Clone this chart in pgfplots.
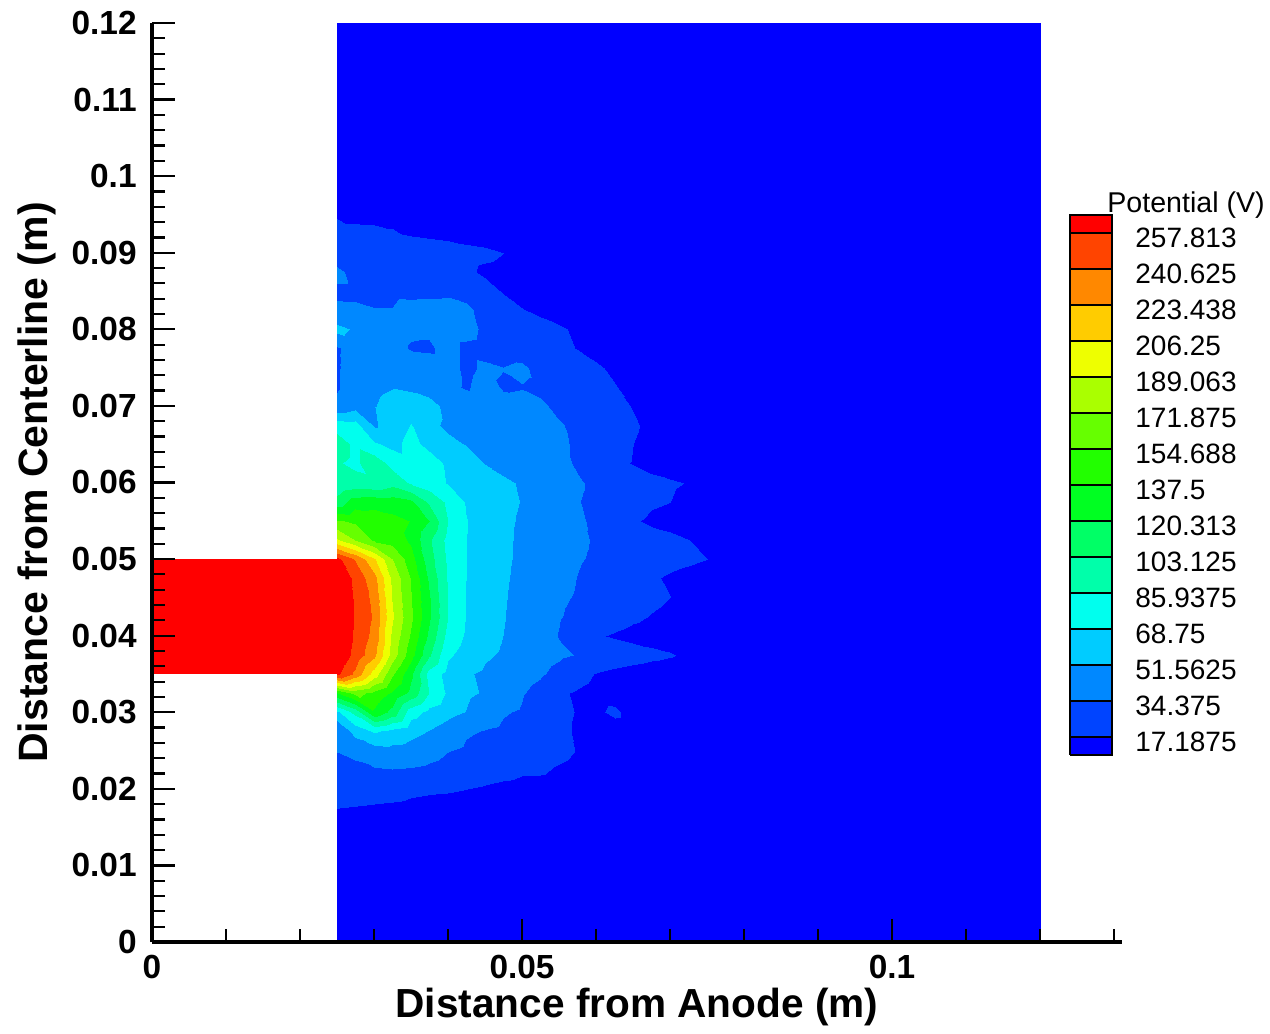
\documentclass[border=0pt]{standalone}
\usepackage{fontspec}
\setmainfont{Liberation Sans}
\usepackage{pgfplots}
\pgfplotsset{compat=1.18}

% contour band colours (low to high)
\definecolor{b0}{RGB}{0,0,255}
\definecolor{b1}{RGB}{0,68,255}
\definecolor{b2}{RGB}{0,136,255}
\definecolor{b3}{RGB}{0,204,255}
\definecolor{b4}{RGB}{0,255,238}
\definecolor{b5}{RGB}{0,255,170}
\definecolor{b6}{RGB}{0,255,102}
\definecolor{b7}{RGB}{0,255,34}
\definecolor{b8}{RGB}{34,255,0}
\definecolor{b9}{RGB}{102,255,0}
\definecolor{b10}{RGB}{170,255,0}
\definecolor{b11}{RGB}{238,255,0}
\definecolor{b12}{RGB}{255,204,0}
\definecolor{b13}{RGB}{255,136,0}
\definecolor{b14}{RGB}{255,68,0}
\definecolor{b15}{RGB}{255,0,0}

\begin{document}
\begin{tikzpicture}
\path[use as bounding box] (-76pt,-46pt) rectangle (559pt,471pt);

\begin{axis}[
  at={(0pt,0pt)}, anchor=south west,
  scale only axis, width=485pt, height=459.5pt,
  xmin=0, xmax=0.13108, ymin=0, ymax=0.12,
  enlargelimits=false,
  axis lines*=left,
  axis line style={line width=1.6pt, black},
  axis on top,
  tick align=inside,
  xtick={0,0.05,0.1}, xticklabels={0,0.05,0.1},
  minor xtick={0.01,0.02,0.03,0.04,0.06,0.07,0.08,0.09,0.11,0.12,0.13},
  ytick={0,0.01,0.02,0.03,0.04,0.05,0.06,0.07,0.08,0.09,0.1,0.11,0.12},
  yticklabels={0,0.01,0.02,0.03,0.04,0.05,0.06,0.07,0.08,0.09,0.1,0.11,0.12},
  minor y tick num=4,
  major tick length=11.5pt, minor tick length=6.5pt,
  tick style={line width=1.1pt, black},
  tick label style={font=\fontsize{16.7}{20}\selectfont\bfseries},
  xticklabel style={anchor=north, inner sep=0pt, yshift=-6.5pt},
  yticklabel style={anchor=east, inner sep=0pt, xshift=-7.5pt},
  xlabel={Distance from Anode (m)},
  ylabel={Distance from Centerline (m)},
  xlabel style={at={(axis description cs:0.5,-0.0707)}, anchor=center,
    font=\fontsize{20.3}{24}\selectfont\bfseries},
  ylabel style={at={(axis description cs:-0.1186,0.5)}, anchor=center, rotate=0,
    font=\fontsize{20.5}{24}\selectfont\bfseries},
  colormap={tecband}{rgb255=(0,0,255) rgb255=(0,68,255) rgb255=(0,136,255) rgb255=(0,204,255)
    rgb255=(0,255,238) rgb255=(0,255,170) rgb255=(0,255,102) rgb255=(0,255,34)
    rgb255=(34,255,0) rgb255=(102,255,0) rgb255=(170,255,0) rgb255=(238,255,0)
    rgb255=(255,204,0) rgb255=(255,136,0) rgb255=(255,68,0) rgb255=(255,0,0) rgb255=(255,0,0)},
  colormap access=piecewise constant,
  point meta min=0, point meta max=275,
]
% potential field (V) on the structured grid right of the anode face
\addplot[surf, shader=interp, mesh/cols=23, point meta=explicit]
  table[row sep=\\, x index=0, y index=1, meta index=2] {
0.025 0 6.9\\ 0.0275 0 6.9\\ 0.03 0 6.9\\ 0.0325 0 6.9\\ 0.035 0 6.9\\ 0.0375 0 6.9\\ 0.04 0 6.9\\ 0.0425 0 6.9\\ 0.045 0 6.9\\ 0.0475 0 6.9\\ 0.05 0 6.9\\ 0.0525 0 6.9\\ 0.055 0 6.9\\ 0.0575 0 6.9\\ 0.06 0 6.9\\ 0.0625 0 6.9\\ 0.065 0 6.9\\ 0.0675 0 6.9\\ 0.07 0 6.9\\ 0.0725 0 6.9\\ 0.075 0 6.9\\ 0.0775 0 6.9\\ 0.12 0 6.9\\
0.025 0.01 7.7\\ 0.0275 0.01 7.7\\ 0.03 0.01 7.7\\ 0.0325 0.01 7.7\\ 0.035 0.01 7.7\\ 0.0375 0.01 7.7\\ 0.04 0.01 7.7\\ 0.0425 0.01 7.7\\ 0.045 0.01 7.7\\ 0.0475 0.01 7.7\\ 0.05 0.01 7.7\\ 0.0525 0.01 7.7\\ 0.055 0.01 7.7\\ 0.0575 0.01 7.7\\ 0.06 0.01 7.7\\ 0.0625 0.01 7.7\\ 0.065 0.01 7.7\\ 0.0675 0.01 7.7\\ 0.07 0.01 7.7\\ 0.0725 0.01 7.7\\ 0.075 0.01 7.7\\ 0.0775 0.01 7.7\\ 0.12 0.01 6.9\\
0.025 0.015 11.2\\ 0.0275 0.015 10.3\\ 0.03 0.015 9.5\\ 0.0325 0.015 9.5\\ 0.035 0.015 9.5\\ 0.0375 0.015 9.5\\ 0.04 0.015 9.5\\ 0.0425 0.015 9.5\\ 0.045 0.015 9.5\\ 0.0475 0.015 7.7\\ 0.05 0.015 7.7\\ 0.0525 0.015 7.7\\ 0.055 0.015 7.7\\ 0.0575 0.015 7.7\\ 0.06 0.015 7.7\\ 0.0625 0.015 7.7\\ 0.065 0.015 7.7\\ 0.0675 0.015 7.7\\ 0.07 0.015 7.7\\ 0.0725 0.015 7.7\\ 0.075 0.015 7.7\\ 0.0775 0.015 7.7\\ 0.12 0.015 6.9\\
0.025 0.0175 16.3\\ 0.0275 0.0175 15.5\\ 0.03 0.0175 14.6\\ 0.0325 0.0175 13.8\\ 0.035 0.0175 12.9\\ 0.0375 0.0175 12.0\\ 0.04 0.0175 11.2\\ 0.0425 0.0175 10.3\\ 0.045 0.0175 9.5\\ 0.0475 0.0175 7.7\\ 0.05 0.0175 7.7\\ 0.0525 0.0175 7.7\\ 0.055 0.0175 7.7\\ 0.0575 0.0175 7.7\\ 0.06 0.0175 7.7\\ 0.0625 0.0175 7.7\\ 0.065 0.0175 7.7\\ 0.0675 0.0175 7.7\\ 0.07 0.0175 7.7\\ 0.0725 0.0175 7.7\\ 0.075 0.0175 7.7\\ 0.0775 0.0175 7.7\\ 0.12 0.0175 6.9\\
0.025 0.02 24.1\\ 0.0275 0.02 23.2\\ 0.03 0.02 22.3\\ 0.0325 0.02 21.5\\ 0.035 0.02 18.9\\ 0.0375 0.02 18.0\\ 0.04 0.02 17.5\\ 0.0425 0.02 16.3\\ 0.045 0.02 14.6\\ 0.0475 0.02 12.9\\ 0.05 0.02 12.0\\ 0.0525 0.02 11.2\\ 0.055 0.02 10.3\\ 0.0575 0.02 7.7\\ 0.06 0.02 7.7\\ 0.0625 0.02 7.7\\ 0.065 0.02 7.7\\ 0.0675 0.02 7.7\\ 0.07 0.02 7.7\\ 0.0725 0.02 7.7\\ 0.075 0.02 7.7\\ 0.0775 0.02 7.7\\ 0.12 0.02 6.9\\
0.025 0.0225 29.2\\ 0.0275 0.0225 29.2\\ 0.03 0.0225 30.9\\ 0.0325 0.0225 31.8\\ 0.035 0.0225 30.9\\ 0.0375 0.0225 29.2\\ 0.04 0.0225 26.6\\ 0.0425 0.0225 24.9\\ 0.045 0.0225 22.3\\ 0.0475 0.0225 20.6\\ 0.05 0.0225 18.0\\ 0.0525 0.0225 18.0\\ 0.055 0.0225 14.6\\ 0.0575 0.0225 12.0\\ 0.06 0.0225 10.3\\ 0.0625 0.0225 7.7\\ 0.065 0.0225 7.7\\ 0.0675 0.0225 7.7\\ 0.07 0.0225 7.7\\ 0.0725 0.0225 7.7\\ 0.075 0.0225 7.7\\ 0.0775 0.0225 7.7\\ 0.12 0.0225 6.9\\
0.025 0.025 32.7\\ 0.0275 0.025 35.2\\ 0.03 0.025 41.3\\ 0.0325 0.025 43.0\\ 0.035 0.025 42.1\\ 0.0375 0.025 37.8\\ 0.04 0.025 32.7\\ 0.0425 0.025 30.1\\ 0.045 0.025 27.5\\ 0.0475 0.025 25.8\\ 0.05 0.025 24.1\\ 0.0525 0.025 22.3\\ 0.055 0.025 19.8\\ 0.0575 0.025 15.5\\ 0.06 0.025 12.0\\ 0.0625 0.025 10.3\\ 0.065 0.025 7.7\\ 0.0675 0.025 7.7\\ 0.07 0.025 7.7\\ 0.0725 0.025 7.7\\ 0.075 0.025 7.7\\ 0.0775 0.025 7.7\\ 0.12 0.025 6.9\\
0.025 0.0275 33.5\\ 0.0275 0.0275 55.0\\ 0.03 0.0275 67.0\\ 0.0325 0.0275 60.2\\ 0.035 0.0275 53.3\\ 0.0375 0.0275 48.1\\ 0.04 0.0275 41.3\\ 0.0425 0.0275 34.0\\ 0.045 0.0275 31.8\\ 0.0475 0.0275 30.1\\ 0.05 0.0275 27.5\\ 0.0525 0.0275 25.8\\ 0.055 0.0275 18.9\\ 0.0575 0.0275 14.6\\ 0.06 0.0275 12.0\\ 0.0625 0.0275 10.3\\ 0.065 0.0275 8.6\\ 0.0675 0.0275 7.7\\ 0.07 0.0275 7.7\\ 0.0725 0.0275 7.7\\ 0.075 0.0275 7.7\\ 0.0775 0.0275 7.7\\ 0.12 0.0275 6.9\\
0.025 0.03 61.9\\ 0.0275 0.03 86.8\\ 0.03 0.03 127.2\\ 0.0325 0.03 108.3\\ 0.035 0.03 72.2\\ 0.0375 0.03 60.2\\ 0.04 0.03 53.3\\ 0.0425 0.03 48.1\\ 0.045 0.03 39.5\\ 0.0475 0.03 33.5\\ 0.05 0.03 30.9\\ 0.0525 0.03 20.6\\ 0.055 0.03 18.9\\ 0.0575 0.03 15.5\\ 0.06 0.03 13.8\\ 0.0625 0.03 18.9\\ 0.065 0.03 10.3\\ 0.0675 0.03 7.7\\ 0.07 0.03 7.7\\ 0.0725 0.03 7.7\\ 0.075 0.03 7.7\\ 0.0775 0.03 7.7\\ 0.12 0.03 6.9\\
0.025 0.0325 128.9\\ 0.0275 0.0325 151.3\\ 0.03 0.0325 140.9\\ 0.0325 0.0325 127.2\\ 0.035 0.0325 108.3\\ 0.0375 0.0325 80.8\\ 0.04 0.0325 61.9\\ 0.0425 0.0325 51.2\\ 0.045 0.0325 47.3\\ 0.0475 0.0325 40.4\\ 0.05 0.0325 33.5\\ 0.0525 0.0325 27.5\\ 0.055 0.0325 18.0\\ 0.0575 0.0325 14.6\\ 0.06 0.0325 11.2\\ 0.0625 0.0325 9.5\\ 0.065 0.0325 7.7\\ 0.0675 0.0325 7.7\\ 0.07 0.0325 7.7\\ 0.0725 0.0325 7.7\\ 0.075 0.0325 7.7\\ 0.0775 0.0325 7.7\\ 0.12 0.0325 6.9\\
0.025 0.035 246.6\\ 0.0275 0.035 222.6\\ 0.03 0.035 187.0\\ 0.0325 0.035 148.7\\ 0.035 0.035 116.5\\ 0.0375 0.035 74.9\\ 0.04 0.035 59.0\\ 0.0425 0.035 50.2\\ 0.045 0.035 46.2\\ 0.0475 0.035 42.3\\ 0.05 0.035 38.3\\ 0.0525 0.035 34.2\\ 0.055 0.035 27.8\\ 0.0575 0.035 21.5\\ 0.06 0.035 15.5\\ 0.0625 0.035 12.0\\ 0.065 0.035 9.5\\ 0.0675 0.035 7.7\\ 0.07 0.035 6.9\\ 0.0725 0.035 6.9\\ 0.075 0.035 6.9\\ 0.0775 0.035 6.9\\ 0.12 0.035 6.9\\
0.025 0.0375 258.7\\ 0.0275 0.0375 237.4\\ 0.03 0.0375 214.8\\ 0.0325 0.0375 170.8\\ 0.035 0.0375 135.8\\ 0.0375 0.0375 99.5\\ 0.04 0.0375 67.2\\ 0.0425 0.0375 58.3\\ 0.045 0.0375 50.5\\ 0.0475 0.0375 46.6\\ 0.05 0.0375 42.6\\ 0.0525 0.0375 38.5\\ 0.055 0.0375 34.5\\ 0.0575 0.0375 31.6\\ 0.06 0.0375 28.7\\ 0.0625 0.0375 25.8\\ 0.065 0.0375 23.0\\ 0.0675 0.0375 20.1\\ 0.07 0.0375 17.5\\ 0.0725 0.0375 12.9\\ 0.075 0.0375 9.5\\ 0.0775 0.0375 6.9\\ 0.12 0.0375 6.9\\
0.025 0.04 260.4\\ 0.0275 0.04 240.1\\ 0.03 0.04 221.4\\ 0.0325 0.04 174.8\\ 0.035 0.04 143.2\\ 0.0375 0.04 109.8\\ 0.04 0.04 74.9\\ 0.0425 0.04 62.7\\ 0.045 0.04 55.0\\ 0.0475 0.04 48.5\\ 0.05 0.04 43.1\\ 0.0525 0.04 37.8\\ 0.055 0.04 31.8\\ 0.0575 0.04 24.9\\ 0.06 0.04 17.9\\ 0.0625 0.04 14.6\\ 0.065 0.04 12.0\\ 0.0675 0.04 10.3\\ 0.07 0.04 8.6\\ 0.0725 0.04 7.7\\ 0.075 0.04 6.9\\ 0.0775 0.04 6.9\\ 0.12 0.04 6.9\\
0.025 0.0425 262.1\\ 0.0275 0.0425 241.1\\ 0.03 0.0425 224.3\\ 0.0325 0.0425 180.5\\ 0.035 0.0425 148.5\\ 0.0375 0.0425 116.0\\ 0.04 0.0425 80.8\\ 0.0425 0.0425 64.1\\ 0.045 0.0425 56.5\\ 0.0475 0.0425 49.3\\ 0.05 0.0425 43.7\\ 0.0525 0.0425 38.0\\ 0.055 0.0425 33.0\\ 0.0575 0.0425 29.4\\ 0.06 0.0425 25.8\\ 0.0625 0.0425 22.2\\ 0.065 0.0425 18.6\\ 0.0675 0.0425 15.5\\ 0.07 0.0425 12.9\\ 0.0725 0.0425 10.3\\ 0.075 0.0425 8.6\\ 0.0775 0.0425 6.9\\ 0.12 0.0425 6.9\\
0.025 0.045 262.1\\ 0.0275 0.045 240.1\\ 0.03 0.045 221.6\\ 0.0325 0.045 177.2\\ 0.035 0.045 146.1\\ 0.0375 0.045 115.0\\ 0.04 0.045 79.8\\ 0.0425 0.045 64.1\\ 0.045 0.045 56.5\\ 0.0475 0.045 49.7\\ 0.05 0.045 44.5\\ 0.0525 0.045 39.2\\ 0.055 0.045 34.2\\ 0.0575 0.045 31.3\\ 0.06 0.045 28.4\\ 0.0625 0.045 25.3\\ 0.065 0.045 22.3\\ 0.0675 0.045 19.4\\ 0.07 0.045 16.3\\ 0.0725 0.045 13.8\\ 0.075 0.045 10.3\\ 0.0775 0.045 7.7\\ 0.12 0.045 6.9\\
0.025 0.0475 259.5\\ 0.0275 0.0475 238.0\\ 0.03 0.0475 215.9\\ 0.0325 0.0475 174.8\\ 0.035 0.0475 144.4\\ 0.0375 0.0475 110.7\\ 0.04 0.0475 79.1\\ 0.0425 0.0475 64.8\\ 0.045 0.0475 57.1\\ 0.0475 0.0475 50.2\\ 0.05 0.0475 45.4\\ 0.0525 0.0475 40.7\\ 0.055 0.0475 35.9\\ 0.0575 0.0475 32.0\\ 0.06 0.0475 28.5\\ 0.0625 0.0475 24.9\\ 0.065 0.0475 21.3\\ 0.0675 0.0475 17.9\\ 0.07 0.0475 14.6\\ 0.0725 0.0475 12.0\\ 0.075 0.0475 9.5\\ 0.0775 0.0475 6.9\\ 0.12 0.0475 6.9\\
0.025 0.05 247.5\\ 0.0275 0.05 225.2\\ 0.03 0.05 196.5\\ 0.0325 0.05 162.4\\ 0.035 0.05 135.8\\ 0.0375 0.05 104.0\\ 0.04 0.05 77.9\\ 0.0425 0.05 65.0\\ 0.045 0.05 57.6\\ 0.0475 0.05 50.7\\ 0.05 0.05 46.2\\ 0.0525 0.05 41.6\\ 0.055 0.05 37.1\\ 0.0575 0.05 33.3\\ 0.06 0.05 30.8\\ 0.0625 0.05 28.2\\ 0.065 0.05 25.4\\ 0.0675 0.05 22.9\\ 0.07 0.05 20.3\\ 0.0725 0.05 18.6\\ 0.075 0.05 16.3\\ 0.0775 0.05 11.2\\ 0.12 0.05 6.9\\
0.025 0.0525 180.5\\ 0.0275 0.0525 161.6\\ 0.03 0.0525 143.5\\ 0.0325 0.0525 139.2\\ 0.035 0.0525 126.3\\ 0.0375 0.0525 99.7\\ 0.04 0.0525 75.6\\ 0.0425 0.0525 65.0\\ 0.045 0.0525 57.6\\ 0.0475 0.0525 50.7\\ 0.05 0.0525 46.6\\ 0.0525 0.0525 42.5\\ 0.055 0.0525 38.3\\ 0.0575 0.0525 34.2\\ 0.06 0.0525 31.3\\ 0.0625 0.0525 28.4\\ 0.065 0.0525 25.3\\ 0.0675 0.0525 22.3\\ 0.07 0.0525 19.3\\ 0.0725 0.0525 16.3\\ 0.075 0.0525 12.9\\ 0.0775 0.0525 9.5\\ 0.12 0.0525 6.9\\
0.025 0.055 147.8\\ 0.0275 0.055 142.7\\ 0.03 0.055 138.4\\ 0.0325 0.055 134.1\\ 0.035 0.055 128.9\\ 0.0375 0.055 113.4\\ 0.04 0.055 80.8\\ 0.0425 0.055 65.3\\ 0.045 0.055 57.6\\ 0.0475 0.055 50.7\\ 0.05 0.055 47.3\\ 0.0525 0.055 43.0\\ 0.055 0.055 38.7\\ 0.0575 0.055 33.5\\ 0.06 0.055 30.9\\ 0.0625 0.055 27.5\\ 0.065 0.055 18.0\\ 0.0675 0.055 13.8\\ 0.07 0.055 12.0\\ 0.0725 0.055 10.3\\ 0.075 0.055 8.6\\ 0.0775 0.055 6.9\\ 0.12 0.055 6.9\\
0.025 0.0575 104.0\\ 0.0275 0.0575 122.0\\ 0.03 0.0575 123.8\\ 0.0325 0.0575 122.0\\ 0.035 0.0575 116.9\\ 0.0375 0.0575 94.5\\ 0.04 0.0575 77.3\\ 0.0425 0.0575 63.6\\ 0.045 0.0575 56.7\\ 0.0475 0.0575 51.2\\ 0.05 0.0575 48.1\\ 0.0525 0.0575 43.8\\ 0.055 0.0575 39.5\\ 0.0575 0.0575 32.7\\ 0.06 0.0575 30.1\\ 0.0625 0.0575 26.6\\ 0.065 0.0575 23.2\\ 0.0675 0.0575 18.0\\ 0.07 0.0575 16.3\\ 0.0725 0.0575 12.0\\ 0.075 0.0575 9.5\\ 0.0775 0.0575 6.9\\ 0.12 0.0575 6.9\\
0.025 0.06 82.5\\ 0.0275 0.06 86.8\\ 0.03 0.06 84.2\\ 0.0325 0.06 91.1\\ 0.035 0.06 79.1\\ 0.0375 0.06 72.2\\ 0.04 0.06 63.6\\ 0.0425 0.06 58.4\\ 0.045 0.06 55.0\\ 0.0475 0.06 50.7\\ 0.05 0.06 47.3\\ 0.0525 0.06 43.0\\ 0.055 0.06 38.7\\ 0.0575 0.06 33.5\\ 0.06 0.06 30.1\\ 0.0625 0.06 26.6\\ 0.065 0.06 24.1\\ 0.0675 0.06 19.8\\ 0.07 0.06 18.0\\ 0.0725 0.06 15.5\\ 0.075 0.06 10.3\\ 0.0775 0.06 6.9\\ 0.12 0.06 6.9\\
0.025 0.0625 82.5\\ 0.0275 0.0625 77.3\\ 0.03 0.0625 91.1\\ 0.0325 0.0625 75.6\\ 0.035 0.0625 69.1\\ 0.0375 0.0625 72.2\\ 0.04 0.0625 61.9\\ 0.0425 0.0625 53.3\\ 0.045 0.0625 48.1\\ 0.0475 0.0625 44.7\\ 0.05 0.0625 42.1\\ 0.0525 0.0625 39.5\\ 0.055 0.0625 35.2\\ 0.0575 0.0625 30.9\\ 0.06 0.0625 27.5\\ 0.0625 0.0625 18.9\\ 0.065 0.0625 15.5\\ 0.0675 0.0625 12.0\\ 0.07 0.0625 8.6\\ 0.0725 0.0625 6.9\\ 0.075 0.0625 6.9\\ 0.0775 0.0625 6.9\\ 0.12 0.0625 6.9\\
0.025 0.065 89.4\\ 0.0275 0.065 77.3\\ 0.03 0.065 67.0\\ 0.0325 0.065 60.2\\ 0.035 0.065 69.6\\ 0.0375 0.065 60.2\\ 0.04 0.065 51.2\\ 0.0425 0.065 48.1\\ 0.045 0.065 46.4\\ 0.0475 0.065 44.7\\ 0.05 0.065 43.0\\ 0.0525 0.065 39.5\\ 0.055 0.065 34.0\\ 0.0575 0.065 30.9\\ 0.06 0.065 27.5\\ 0.0625 0.065 22.3\\ 0.065 0.065 16.3\\ 0.0675 0.065 12.0\\ 0.07 0.065 8.6\\ 0.0725 0.065 6.9\\ 0.075 0.065 6.9\\ 0.0775 0.065 6.9\\ 0.12 0.065 6.9\\
0.025 0.0675 73.9\\ 0.0275 0.0675 70.5\\ 0.03 0.0675 46.4\\ 0.0325 0.0675 56.7\\ 0.035 0.0675 65.3\\ 0.0375 0.0675 51.2\\ 0.04 0.0675 46.4\\ 0.0425 0.0675 44.7\\ 0.045 0.0675 43.0\\ 0.0475 0.0675 42.1\\ 0.05 0.0675 41.3\\ 0.0525 0.0675 36.1\\ 0.055 0.0675 33.5\\ 0.0575 0.0675 29.2\\ 0.06 0.0675 25.8\\ 0.0625 0.0675 22.3\\ 0.065 0.0675 18.0\\ 0.0675 0.0675 12.9\\ 0.07 0.0675 9.5\\ 0.0725 0.0675 7.7\\ 0.075 0.0675 6.9\\ 0.0775 0.0675 6.9\\ 0.12 0.0675 6.9\\
0.025 0.07 36.1\\ 0.0275 0.07 43.0\\ 0.03 0.07 48.1\\ 0.0325 0.07 51.9\\ 0.035 0.07 55.0\\ 0.0375 0.07 53.3\\ 0.04 0.07 44.7\\ 0.0425 0.07 41.3\\ 0.045 0.07 39.5\\ 0.0475 0.07 37.8\\ 0.05 0.07 36.1\\ 0.0525 0.07 34.7\\ 0.055 0.07 29.2\\ 0.0575 0.07 25.8\\ 0.06 0.07 23.2\\ 0.0625 0.07 19.8\\ 0.065 0.07 15.5\\ 0.0675 0.07 10.3\\ 0.07 0.07 8.6\\ 0.0725 0.07 6.9\\ 0.075 0.07 6.9\\ 0.0775 0.07 6.9\\ 0.12 0.07 6.9\\
0.025 0.0725 30.9\\ 0.0275 0.0725 41.3\\ 0.03 0.0725 46.4\\ 0.0325 0.0725 48.1\\ 0.035 0.0725 46.4\\ 0.0375 0.0725 43.0\\ 0.04 0.0725 36.1\\ 0.0425 0.0725 30.9\\ 0.045 0.0725 37.8\\ 0.0475 0.0725 30.9\\ 0.05 0.0725 31.8\\ 0.0525 0.0725 29.2\\ 0.055 0.0725 25.8\\ 0.0575 0.0725 22.3\\ 0.06 0.0725 20.6\\ 0.0625 0.0725 16.8\\ 0.065 0.0725 12.0\\ 0.0675 0.0725 9.5\\ 0.07 0.0725 7.7\\ 0.0725 0.0725 6.9\\ 0.075 0.0725 6.9\\ 0.0775 0.0725 6.9\\ 0.12 0.0725 6.9\\
0.025 0.075 30.9\\ 0.0275 0.075 39.5\\ 0.03 0.075 44.7\\ 0.0325 0.075 44.7\\ 0.035 0.075 41.3\\ 0.0375 0.075 39.5\\ 0.04 0.075 37.8\\ 0.0425 0.075 29.2\\ 0.045 0.075 34.7\\ 0.0475 0.075 32.7\\ 0.05 0.075 35.2\\ 0.0525 0.075 27.5\\ 0.055 0.075 24.9\\ 0.0575 0.075 22.3\\ 0.06 0.075 18.0\\ 0.0625 0.075 13.8\\ 0.065 0.075 10.3\\ 0.0675 0.075 8.6\\ 0.07 0.075 6.9\\ 0.0725 0.075 6.9\\ 0.075 0.075 6.9\\ 0.0775 0.075 6.9\\ 0.12 0.075 6.9\\
0.025 0.0775 30.9\\ 0.0275 0.0775 39.5\\ 0.03 0.0775 43.0\\ 0.0325 0.0775 39.5\\ 0.035 0.0775 30.9\\ 0.0375 0.0775 30.1\\ 0.04 0.0775 37.8\\ 0.0425 0.0775 29.2\\ 0.045 0.0775 27.5\\ 0.0475 0.0775 25.8\\ 0.05 0.0775 24.9\\ 0.0525 0.0775 23.2\\ 0.055 0.0775 19.8\\ 0.0575 0.0775 15.5\\ 0.06 0.0775 12.0\\ 0.0625 0.0775 8.6\\ 0.065 0.0775 6.9\\ 0.0675 0.0775 6.9\\ 0.07 0.0775 6.9\\ 0.0725 0.0775 6.9\\ 0.075 0.0775 6.9\\ 0.0775 0.0775 6.9\\ 0.12 0.0775 6.9\\
0.025 0.08 53.3\\ 0.0275 0.08 46.4\\ 0.03 0.08 41.3\\ 0.0325 0.08 39.5\\ 0.035 0.08 35.2\\ 0.0375 0.08 35.2\\ 0.04 0.08 37.8\\ 0.0425 0.08 37.8\\ 0.045 0.08 29.2\\ 0.0475 0.08 25.8\\ 0.05 0.08 22.3\\ 0.0525 0.08 20.6\\ 0.055 0.08 18.0\\ 0.0575 0.08 13.8\\ 0.06 0.08 10.3\\ 0.0625 0.08 8.6\\ 0.065 0.08 6.9\\ 0.0675 0.08 6.9\\ 0.07 0.08 6.9\\ 0.0725 0.08 6.9\\ 0.075 0.08 6.9\\ 0.0775 0.08 6.9\\ 0.12 0.08 6.9\\
0.025 0.0825 33.9\\ 0.0275 0.0825 33.5\\ 0.03 0.0825 32.7\\ 0.0325 0.0825 32.7\\ 0.035 0.0825 36.1\\ 0.0375 0.0825 37.0\\ 0.04 0.0825 37.0\\ 0.0425 0.0825 35.2\\ 0.045 0.0825 27.5\\ 0.0475 0.0825 20.6\\ 0.05 0.0825 16.8\\ 0.0525 0.0825 13.8\\ 0.055 0.0825 10.3\\ 0.0575 0.0825 8.6\\ 0.06 0.0825 6.9\\ 0.0625 0.0825 6.9\\ 0.065 0.0825 6.9\\ 0.0675 0.0825 6.9\\ 0.07 0.0825 6.9\\ 0.0725 0.0825 6.9\\ 0.075 0.0825 6.9\\ 0.0775 0.0825 6.9\\ 0.12 0.0825 6.9\\
0.025 0.085 30.9\\ 0.0275 0.085 30.9\\ 0.03 0.085 30.1\\ 0.0325 0.085 30.1\\ 0.035 0.085 29.2\\ 0.0375 0.085 29.2\\ 0.04 0.085 30.1\\ 0.0425 0.085 27.5\\ 0.045 0.085 19.8\\ 0.0475 0.085 15.5\\ 0.05 0.085 11.2\\ 0.0525 0.085 9.5\\ 0.055 0.085 7.7\\ 0.0575 0.085 6.9\\ 0.06 0.085 6.9\\ 0.0625 0.085 6.9\\ 0.065 0.085 6.9\\ 0.0675 0.085 6.9\\ 0.07 0.085 6.9\\ 0.0725 0.085 6.9\\ 0.075 0.085 6.9\\ 0.0775 0.085 6.9\\ 0.12 0.085 6.9\\
0.025 0.0875 34.7\\ 0.0275 0.0875 29.2\\ 0.03 0.0875 27.5\\ 0.0325 0.0875 26.6\\ 0.035 0.0875 25.8\\ 0.0375 0.0875 24.9\\ 0.04 0.0875 22.3\\ 0.0425 0.0875 18.0\\ 0.045 0.0875 14.6\\ 0.0475 0.0875 13.8\\ 0.05 0.0875 10.3\\ 0.0525 0.0875 8.6\\ 0.055 0.0875 6.9\\ 0.0575 0.0875 6.9\\ 0.06 0.0875 6.9\\ 0.0625 0.0875 6.9\\ 0.065 0.0875 6.9\\ 0.0675 0.0875 6.9\\ 0.07 0.0875 6.9\\ 0.0725 0.0875 6.9\\ 0.075 0.0875 6.9\\ 0.0775 0.0875 6.9\\ 0.12 0.0875 6.9\\
0.025 0.09 25.8\\ 0.0275 0.09 24.9\\ 0.03 0.09 24.1\\ 0.0325 0.09 23.2\\ 0.035 0.09 22.3\\ 0.0375 0.09 21.5\\ 0.04 0.09 20.6\\ 0.0425 0.09 18.9\\ 0.045 0.09 18.0\\ 0.0475 0.09 16.3\\ 0.05 0.09 10.3\\ 0.0525 0.09 8.6\\ 0.055 0.09 6.9\\ 0.0575 0.09 6.9\\ 0.06 0.09 6.9\\ 0.0625 0.09 6.9\\ 0.065 0.09 6.9\\ 0.0675 0.09 6.9\\ 0.07 0.09 6.9\\ 0.0725 0.09 6.9\\ 0.075 0.09 6.9\\ 0.0775 0.09 6.9\\ 0.12 0.09 6.9\\
0.025 0.0925 21.5\\ 0.0275 0.0925 18.0\\ 0.03 0.0925 17.5\\ 0.0325 0.0925 16.8\\ 0.035 0.0925 15.5\\ 0.0375 0.0925 14.6\\ 0.04 0.0925 13.8\\ 0.0425 0.0925 12.9\\ 0.045 0.0925 12.0\\ 0.0475 0.0925 11.2\\ 0.05 0.0925 8.6\\ 0.0525 0.0925 6.9\\ 0.055 0.0925 6.9\\ 0.0575 0.0925 6.9\\ 0.06 0.0925 6.9\\ 0.0625 0.0925 6.9\\ 0.065 0.0925 6.9\\ 0.0675 0.0925 6.9\\ 0.07 0.0925 6.9\\ 0.0725 0.0925 6.9\\ 0.075 0.0925 6.9\\ 0.0775 0.0925 6.9\\ 0.12 0.0925 6.9\\
0.025 0.095 14.6\\ 0.0275 0.095 14.6\\ 0.03 0.095 14.6\\ 0.0325 0.095 14.6\\ 0.035 0.095 14.6\\ 0.0375 0.095 14.6\\ 0.04 0.095 14.6\\ 0.0425 0.095 13.8\\ 0.045 0.095 13.8\\ 0.0475 0.095 12.0\\ 0.05 0.095 10.3\\ 0.0525 0.095 6.9\\ 0.055 0.095 6.9\\ 0.0575 0.095 6.9\\ 0.06 0.095 6.9\\ 0.0625 0.095 6.9\\ 0.065 0.095 6.9\\ 0.0675 0.095 6.9\\ 0.07 0.095 6.9\\ 0.0725 0.095 6.9\\ 0.075 0.095 6.9\\ 0.0775 0.095 6.9\\ 0.12 0.095 6.9\\
0.025 0.0975 12.0\\ 0.0275 0.0975 12.0\\ 0.03 0.0975 12.0\\ 0.0325 0.0975 12.0\\ 0.035 0.0975 12.0\\ 0.0375 0.0975 12.0\\ 0.04 0.0975 12.0\\ 0.0425 0.0975 12.0\\ 0.045 0.0975 12.0\\ 0.0475 0.0975 10.3\\ 0.05 0.0975 8.6\\ 0.0525 0.0975 6.9\\ 0.055 0.0975 6.9\\ 0.0575 0.0975 6.9\\ 0.06 0.0975 6.9\\ 0.0625 0.0975 6.9\\ 0.065 0.0975 6.9\\ 0.0675 0.0975 6.9\\ 0.07 0.0975 6.9\\ 0.0725 0.0975 6.9\\ 0.075 0.0975 6.9\\ 0.0775 0.0975 6.9\\ 0.12 0.0975 6.9\\
0.025 0.12 6.9\\ 0.0275 0.12 6.9\\ 0.03 0.12 6.9\\ 0.0325 0.12 6.9\\ 0.035 0.12 6.9\\ 0.0375 0.12 6.9\\ 0.04 0.12 6.9\\ 0.0425 0.12 6.9\\ 0.045 0.12 6.9\\ 0.0475 0.12 6.9\\ 0.05 0.12 6.9\\ 0.0525 0.12 6.9\\ 0.055 0.12 6.9\\ 0.0575 0.12 6.9\\ 0.06 0.12 6.9\\ 0.0625 0.12 6.9\\ 0.065 0.12 6.9\\ 0.0675 0.12 6.9\\ 0.07 0.12 6.9\\ 0.0725 0.12 6.9\\ 0.075 0.12 6.9\\ 0.0775 0.12 6.9\\ 0.12 0.12 6.9\\
};
% anode body held at full potential
\addplot[fill=b15, draw=none] coordinates {(0,0.035) (0.025,0.035) (0.025,0.05) (0,0.05)};
\end{axis}

% legend of contour levels
\begin{axis}[
  at={(459pt,93.5pt)}, anchor=south west,
  scale only axis, width=21pt, height=270pt,
  xmin=0, xmax=1, ymin=8.59375, ymax=266.40625,
  clip=false,
  hide x axis,
  axis y line*=right,
  y axis line style={draw=none},
  major tick length=0pt,
  ytick style={draw=none},
  ytick={17.1875,34.375,51.5625,68.75,85.9375,103.125,120.3125,137.5,154.6875,171.875,189.0625,206.25,223.4375,240.625,257.8125},
  yticklabels={17.1875,34.375,51.5625,68.75,85.9375,103.125,120.313,137.5,154.688,171.875,189.063,206.25,223.438,240.625,257.813},
  yticklabel style={font=\fontsize{14}{16}\selectfont, anchor=west, inner sep=0pt, xshift=11.5pt, yshift=-2.5pt},
  every axis plot/.append style={draw=black, line width=0.8pt},
]
\addplot[fill=b0]  coordinates {(0,8.59375) (1,8.59375) (1,17.1875) (0,17.1875) (0,8.59375)};
\addplot[fill=b1]  coordinates {(0,17.1875) (1,17.1875) (1,34.375) (0,34.375) (0,17.1875)};
\addplot[fill=b2]  coordinates {(0,34.375) (1,34.375) (1,51.5625) (0,51.5625) (0,34.375)};
\addplot[fill=b3]  coordinates {(0,51.5625) (1,51.5625) (1,68.75) (0,68.75) (0,51.5625)};
\addplot[fill=b4]  coordinates {(0,68.75) (1,68.75) (1,85.9375) (0,85.9375) (0,68.75)};
\addplot[fill=b5]  coordinates {(0,85.9375) (1,85.9375) (1,103.125) (0,103.125) (0,85.9375)};
\addplot[fill=b6]  coordinates {(0,103.125) (1,103.125) (1,120.3125) (0,120.3125) (0,103.125)};
\addplot[fill=b7]  coordinates {(0,120.3125) (1,120.3125) (1,137.5) (0,137.5) (0,120.3125)};
\addplot[fill=b8]  coordinates {(0,137.5) (1,137.5) (1,154.6875) (0,154.6875) (0,137.5)};
\addplot[fill=b9]  coordinates {(0,154.6875) (1,154.6875) (1,171.875) (0,171.875) (0,154.6875)};
\addplot[fill=b10] coordinates {(0,171.875) (1,171.875) (1,189.0625) (0,189.0625) (0,171.875)};
\addplot[fill=b11] coordinates {(0,189.0625) (1,189.0625) (1,206.25) (0,206.25) (0,189.0625)};
\addplot[fill=b12] coordinates {(0,206.25) (1,206.25) (1,223.4375) (0,223.4375) (0,206.25)};
\addplot[fill=b13] coordinates {(0,223.4375) (1,223.4375) (1,240.625) (0,240.625) (0,223.4375)};
\addplot[fill=b14] coordinates {(0,240.625) (1,240.625) (1,257.8125) (0,257.8125) (0,240.625)};
\addplot[fill=b15] coordinates {(0,257.8125) (1,257.8125) (1,266.40625) (0,266.40625) (0,257.8125)};
\end{axis}

\node[anchor=base west, inner sep=0pt, font=\fontsize{14.3}{16}\selectfont] at (477.5pt,364.5pt) {Potential (V)};
\end{tikzpicture}
\end{document}
